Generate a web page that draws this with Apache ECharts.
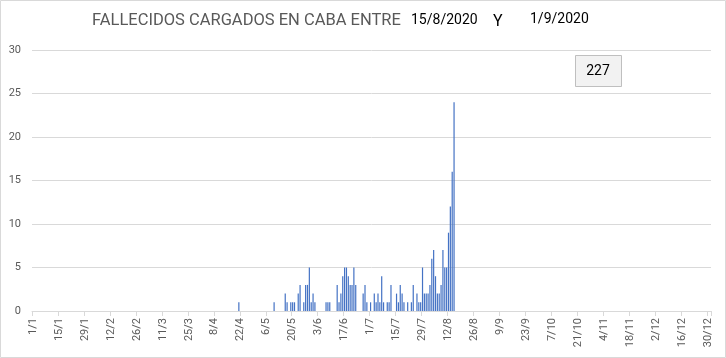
<!DOCTYPE html>
<html>
<head>
<meta charset="utf-8">
<script src="https://cdn.jsdelivr.net/npm/echarts@6/dist/echarts.min.js"></script>
<style>html,body{margin:0;padding:0;background:#fff}#c{width:726px;height:358px}</style>
</head>
<body>
<div id="c"></div>
<script>
// Day labels of 2020 (category axis)
const categories = [];
for (let d = new Date(2020, 0, 1); d.getFullYear() === 2020; d.setDate(d.getDate() + 1)) {
  categories.push(d.getDate() + '/' + (d.getMonth() + 1));
}
// Dates with deaths and counts
const deathDates = ['21/4','10/5','16/5','17/5','19/5','20/5','21/5','23/5','24/5','26/5','27/5','28/5','29/5','30/5','31/5','1/6',
  '7/6','8/6','9/6','13/6','14/6','15/6','16/6','17/6','18/6','19/6','20/6','21/6','22/6','23/6','27/6','28/6','29/6',
  '1/7','3/7','4/7','5/7','6/7','7/7','8/7','10/7','11/7','12/7','15/7','16/7','17/7','18/7','19/7','21/7','23/7','24/7',
  '26/7','27/7','28/7','29/7','30/7','31/7','1/8','2/8','3/8','4/8','5/8','6/8','7/8','8/8','9/8','10/8','11/8','12/8','13/8','14/8','15/8'];
const deathCounts = [1,1,2,1,1,1,1,2,3,1,3,3,5,1,2,1,
  1,1,1,3,1,2,4,5,5,4,3,3,5,3,2,3,1,
  1,2,1,2,1,4,1,1,1,3,2,1,3,2,1,1,1,3,
  2,1,1,5,2,2,2,3,6,7,4,2,2,3,7,5,5,9,12,16,24];
const yTicks = [0, 5, 10, 15, 20, 25, 30];
const titleMain = 'FALLECIDOS CARGADOS EN CABA ENTRE';
const dateFrom = '15/8/2020';
const dateTo = '1/9/2020';
const totalLabel = '227';

const seriesData = deathDates.map((d, i) => [d, deathCounts[i]]);
const font = 'Roboto, "Liberation Sans", sans-serif';

const chart = echarts.init(document.getElementById('c'));
chart.setOption({
  animation: false,
  grid: { left: 32, right: 15, top: 50, bottom: 47, containLabel: false },
  xAxis: {
    type: 'category',
    data: categories,
    boundaryGap: true,
    axisLine: { show: true, lineStyle: { color: '#d9d9d9', width: 1 } },
    axisTick: { show: true, interval: 13, length: 5, lineStyle: { color: '#d9d9d9' } },
    axisLabel: { interval: 13, rotate: 90, color: '#595959', fontSize: 11, fontFamily: font, margin: 7 },
    splitLine: { show: false }
  },
  yAxis: {
    type: 'value',
    min: yTicks[0], max: yTicks[yTicks.length - 1], interval: 5,
    axisLine: { show: false }, axisTick: { show: false },
    axisLabel: { color: '#595959', fontSize: 11, fontFamily: font, margin: 11 },
    splitLine: { lineStyle: { color: '#d9d9d9', width: 1 } }
  },
  series: [{
    type: 'bar',
    data: seriesData,
    barWidth: 1.2,
    itemStyle: { color: '#4472c4' }
  }],
  graphic: [
    { type: 'rect', shape: { x: 0.5, y: 0.5, width: 725, height: 357 }, style: { fill: 'none', stroke: '#d9d9d9', lineWidth: 1 }, silent: true },
    { type: 'text', x: 92, y: 21, style: { text: titleMain, fill: '#595959', fontSize: 16.5, fontFamily: font, textVerticalAlign: 'middle' } },
    { type: 'text', x: 411, y: 20, style: { text: dateFrom, fill: '#000', fontSize: 14, fontFamily: font, textVerticalAlign: 'middle' } },
    { type: 'text', x: 493, y: 22, style: { text: 'Y', fill: '#000', fontSize: 16, fontFamily: font, textVerticalAlign: 'middle' } },
    { type: 'text', x: 530, y: 19, style: { text: dateTo, fill: '#000', fontSize: 14, fontFamily: font, textVerticalAlign: 'middle' } },
    { type: 'rect', shape: { x: 575.5, y: 55.5, width: 46, height: 31 }, style: { fill: '#f2f2f2', stroke: '#bfbfbf', lineWidth: 1 } },
    { type: 'text', x: 598, y: 71, style: { text: totalLabel, fill: '#000', fontSize: 14, fontFamily: font, textAlign: 'center', textVerticalAlign: 'middle' } }
  ]
});
</script>
</body>
</html>
